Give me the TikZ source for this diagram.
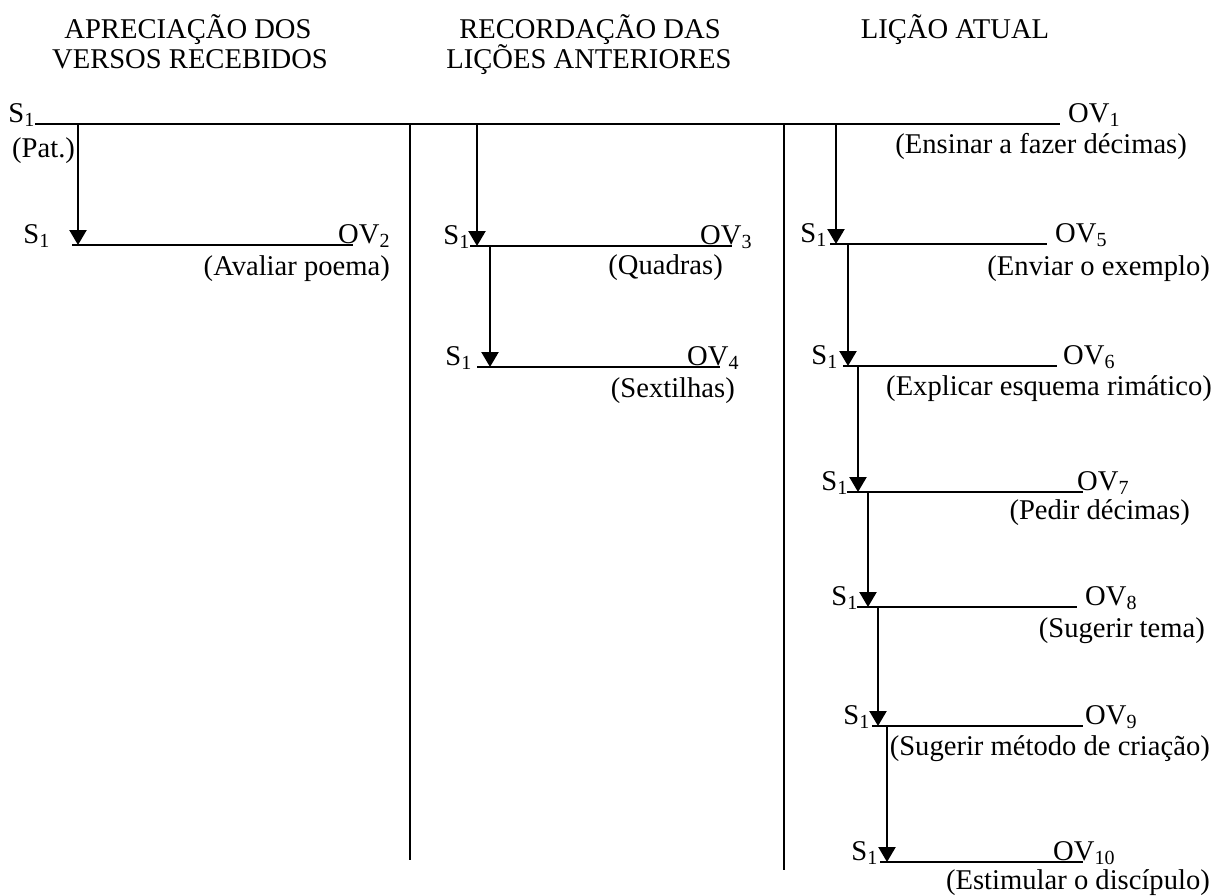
\documentclass[tikz,border=0pt]{standalone}
\usepackage{fontspec}
\setmainfont{Liberation Serif}
\usetikzlibrary{arrows.meta}

\tikzset{
  txt/.style={inner sep=0pt,font=\fontsize{28.6}{30}\selectfont},
  rule/.style={line width=2.2pt},
  down/.style={line width=2.3pt,-{Triangle[width=17pt,length=15pt]}},
  sep/.style={line width=1.9pt}
}

\begin{document}
\begin{tikzpicture}[x=1pt,y=-1pt]
  \useasboundingbox (0,0) rectangle (1230,895);

  % headings of the three parts
  \node[txt,anchor=base] (h1a) at (188,38) {APRECIAÇÃO DOS};
  \node[txt,anchor=base] (h1b) at (190,68) {VERSOS RECEBIDOS};
  \node[txt,anchor=base] (h2a) at (590,38) {RECORDAÇÃO DAS};
  \node[txt,anchor=base] (h2b) at (589,68) {LIÇÕES ANTERIORES};
  \node[txt,anchor=base] (h3a) at (955,38) {LIÇÃO ATUAL};

  % top level
  \node[txt,anchor=base east] (s1) at (35,122) {S\textsubscript{1}};
  \node[txt,anchor=base west] (ov1) at (1068,122) {OV\textsubscript{1}};
  \node[txt,anchor=base west] (pat) at (12,157) {(Pat.)};
  \node[txt,anchor=base east] (d1) at (1187,153) {(Ensinar a fazer décimas)};
  \coordinate (l1) at (35,124);
  \coordinate (r1) at (1060,124);
  \draw[rule] (l1) -- (r1);

  % separators between the parts
  \foreach \k/\x/\y in {1/410/860,2/784/870} {
    \coordinate (u\k) at (\x,124);
    \coordinate (v\k) at (\x,\y);
    \draw[sep] (u\k) -- (v\k);
  };

  % lower levels: arrow x, top y, line y, line from/to, S1, OV, label
  \foreach \n/\ax/\ty/\ly/\lx/\rx/\sx/\ox/\dx/\dy/\lbl in {
      2/78/124/245/72/353/50/338/390/275/{(Avaliar poema)},
      3/477/124/246/470/732/470/700/723/274/{(Quadras)},
      4/490/246/367/477/720/472/687/735/397/{(Sextilhas)},
      5/836/124/244/830/1047/827/1055/1210/275/{(Enviar o exemplo)},
      6/848/244/366/843/1057/838/1063/1212/395/{(Explicar esquema rimático)},
      7/858/366/492/847/1083/848/1077/1190/519/{(Pedir décimas)},
      8/868/492/607/857/1077/858/1085/1205/637/{(Sugerir tema)},
      9/878/607/726/872/1083/870/1085/1210/755/{(Sugerir método de criação)},
      10/887/726/862/880/1083/878/1053/1210/889/{(Estimular o discípulo)}} {
    \coordinate (t\n) at (\ax,\ty);
    \coordinate (b\n) at (\ax,\ly);
    \coordinate (l\n) at (\lx,\ly);
    \coordinate (r\n) at (\rx,\ly);
    \node[txt,anchor=base east] (s\n) at (\sx,{\ly-2}) {S\textsubscript{1}};
    \node[txt,anchor=base west] (ov\n) at (\ox,{\ly-2}) {OV\textsubscript{\n}};
    \node[txt,anchor=base east] (d\n) at (\dx,\dy) {\lbl};
    \draw[rule] (l\n) -- (r\n);
    \draw[down] (t\n) -- (b\n);
  };

\end{tikzpicture}
\end{document}
